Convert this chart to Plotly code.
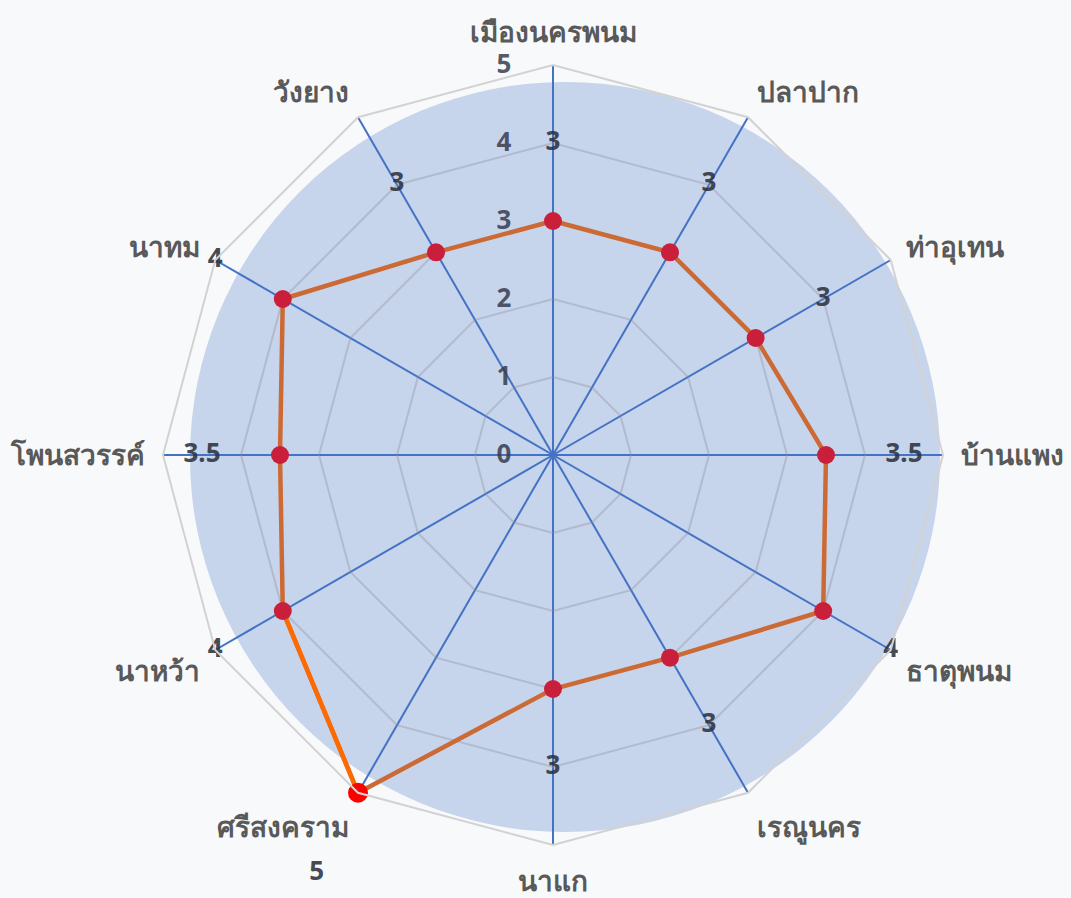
import plotly.graph_objects as go

# Districts of Nakhon Phanom, clockwise from the top
districts = ["เมืองนครพนม", "ปลาปาก", "ท่าอุเทน", "บ้านแพง", "ธาตุพนม", "เรณูนคร",
             "นาแก", "ศรีสงคราม", "นาหว้า", "โพนสวรรค์", "นาทม", "วังยาง"]
scores = [3, 3, 3, 3.5, 4, 3, 3, 5, 4, 3.5, 4, 3]
radial_ticks = [0, 1, 2, 3, 4, 5]
R_MAX = 5

LINE = "#cc6a35"
MARKER = "#c91f3b"
HILITE_MARKER = "#ff0000"
HILITE_LINE = "#ff6a00"
FONT = "Noto Sans, DejaVu Sans, sans-serif"
NBSP = "\u00a0"

top = scores.index(max(scores))
marker_colors = [HILITE_MARKER if i == top else MARKER for i in range(len(scores))]
marker_sizes = [20 if i == top else 18 for i in range(len(scores))]

# value labels sit one unit outside each point; a label that would fall past
# the outer ring is anchored on the ring and pushed outward with padding
label_r, label_text, label_pos = [], [], []
for v in scores:
    if v + 1 <= R_MAX:
        label_r.append(v + 1)
        label_text.append(f"{v:g}")
        label_pos.append("middle center")
    else:
        label_r.append(R_MAX)
        label_text.append(f"<br><br>{v:g}" + NBSP * 5)
        label_pos.append("bottom left")

fig = go.Figure()

# closed outline
fig.add_trace(go.Scatterpolar(
    r=scores + scores[:1], theta=districts + districts[:1],
    mode="lines", line=dict(color=LINE, width=4.5),
    hoverinfo="skip", showlegend=False))

# emphasised segment leading into the highest district
fig.add_trace(go.Scatterpolar(
    r=[scores[top + 1], scores[top]], theta=[districts[top + 1], districts[top]],
    mode="lines", line=dict(color=HILITE_LINE, width=4.5),
    hoverinfo="skip", showlegend=False))

fig.add_trace(go.Scatterpolar(
    r=scores, theta=districts, mode="markers",
    marker=dict(color=marker_colors, size=marker_sizes, opacity=1, line=dict(width=0)),
    showlegend=False))

fig.add_trace(go.Scatterpolar(
    r=label_r, theta=districts, mode="text",
    text=label_text, textposition=label_pos,
    textfont=dict(family=FONT, size=26, color="rgba(45,50,60,0.9)", weight="bold"),
    cliponaxis=False, hoverinfo="skip", showlegend=False))

W, H = 1071, 898
cx, cy, R = 553, 455, 390

fig.update_layout(
    width=W, height=H,
    margin=dict(l=0, r=0, t=0, b=0),
    paper_bgcolor="#f8f9fb",
    plot_bgcolor="#f8f9fb",
    showlegend=False,
    shapes=[dict(
        type="circle", xref="paper", yref="paper", layer="below",
        x0=(565 - 375) / W, x1=(565 + 375) / W,
        y0=1 - (457 + 375) / H, y1=1 - (457 - 375) / H,
        fillcolor="#c6d4ec", line=dict(width=0))],
    polar=dict(
        domain=dict(x=[(cx - R) / W, (cx + R) / W],
                    y=[1 - (cy + R) / H, 1 - (cy - R) / H]),
        bgcolor="rgba(0,0,0,0)",
        gridshape="linear",
        radialaxis=dict(
            range=[0, R_MAX], tickvals=radial_ticks, angle=90, side="counterclockwise",
            showline=False, ticks="outside", ticklen=32, tickcolor="rgba(0,0,0,0)",
            tickangle=90,
            gridcolor="rgba(140,140,150,0.35)", gridwidth=1.5,
            tickfont=dict(family=FONT, size=26, color="rgba(55,60,75,0.85)", weight="bold")),
        angularaxis=dict(
            direction="clockwise", rotation=90,
            categoryorder="array", categoryarray=districts,
            showline=True, linecolor="#d2d2d2", linewidth=2,
            gridcolor="#4472c4", gridwidth=1.5,
            ticks="outside", ticklen=11, tickcolor="rgba(0,0,0,0)",
            tickfont=dict(family=FONT, size=28, color="#595959", weight="bold")),
    ),
)

fig.write_html("out.html")
